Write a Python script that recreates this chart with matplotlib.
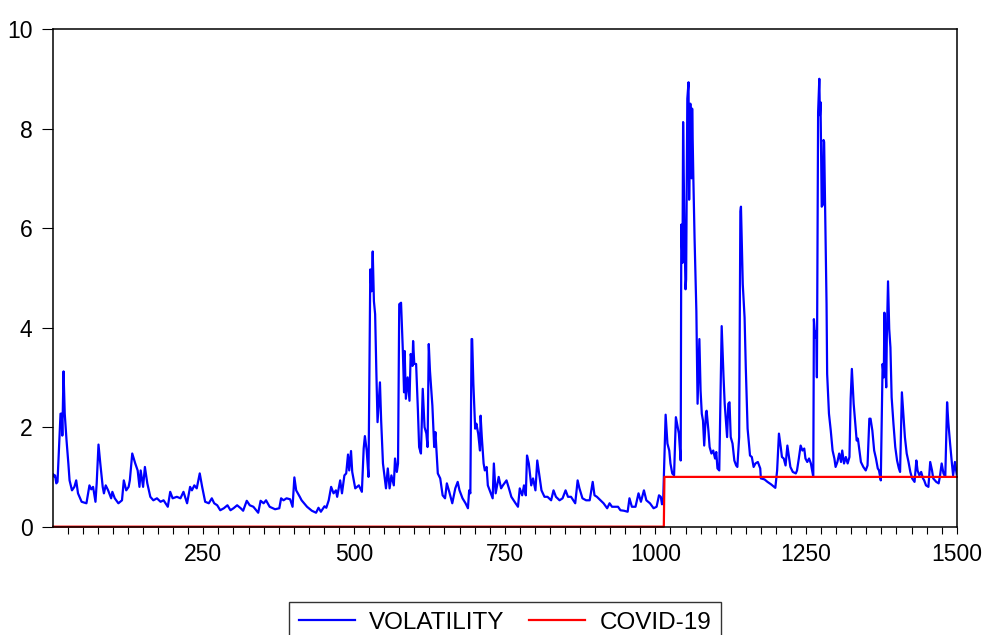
import numpy as np
import matplotlib
matplotlib.use('Agg')
import matplotlib.pyplot as plt
from matplotlib.ticker import MultipleLocator

plt.rcParams['font.family'] = ['Liberation Sans', 'DejaVu Sans']

vol_obs = [1, 3, 4, 6, 8, 13, 15, 16, 18, 20, 23, 26, 28, 32, 36, 39, 42, 48, 56, 61,
           64, 67, 71, 73, 76, 79, 83, 85, 88, 92, 97, 99, 103, 109, 115, 118, 122, 126, 128, 132,
           137, 141, 144, 146, 150, 153, 157, 162, 167, 173, 179, 184, 191, 195, 199, 206, 212, 217, 223, 228,
           231, 235, 239, 244, 248, 253, 259, 264, 268, 273, 278, 284, 290, 295, 300, 306, 312, 316, 322, 327,
           333, 341, 345, 350, 354, 360, 369, 376, 379, 383, 388, 394, 398, 401, 404, 410, 413, 422, 430, 437,
           441, 445, 451, 454, 458, 462, 466, 470, 472, 477, 480, 484, 487, 490, 492, 495, 497, 502, 508, 513,
           516, 518, 521, 524, 527, 529, 531, 533, 535, 537, 539, 543, 545, 548, 553, 556, 559, 562, 566, 568,
           571, 573, 575, 578, 581, 583, 584, 586, 589, 592, 594, 597, 598, 600, 603, 606, 608, 611, 614, 617,
           620, 622, 624, 626, 630, 633, 635, 639, 643, 647, 651, 654, 658, 663, 668, 672, 675, 680, 685, 689,
           691, 693, 695, 696, 698, 701, 703, 706, 709, 710, 712, 715, 717, 720, 722, 726, 730, 732, 735, 740,
           744, 747, 753, 757, 761, 768, 772, 775, 779, 782, 785, 787, 790, 794, 797, 801, 804, 807, 811, 816,
           821, 827, 831, 835, 841, 846, 851, 855, 860, 867, 871, 874, 879, 885, 891, 896, 899, 903, 909, 914,
           920, 924, 928, 933, 938, 942, 948, 954, 957, 961, 967, 972, 976, 981, 985, 991, 997, 1002, 1006, 1009,
           1011, 1013, 1017, 1020, 1023, 1025, 1028, 1031, 1034, 1036, 1039, 1042, 1043, 1045, 1046, 1048, 1050, 1051,
           1053, 1055, 1056, 1058, 1060, 1061, 1063, 1065, 1068, 1070, 1073, 1075, 1077, 1079, 1081, 1084, 1085, 1088,
           1090, 1093, 1096, 1099, 1101, 1103, 1106, 1108, 1110, 1113, 1115, 1119, 1121, 1123, 1125, 1128, 1131, 1134,
           1136, 1139, 1141, 1142, 1145, 1148, 1150, 1153, 1157, 1160, 1163, 1166, 1170, 1174, 1175, 1181, 1186, 1192,
           1197, 1199, 1202, 1205, 1208, 1210, 1213, 1216, 1219, 1222, 1224, 1228, 1233, 1235, 1238, 1241, 1244, 1247,
           1249, 1252, 1255, 1258, 1260, 1262, 1263, 1265, 1267, 1268, 1270, 1272, 1273, 1274, 1276, 1278, 1279, 1280,
           1282, 1284, 1285, 1288, 1291, 1294, 1297, 1299, 1302, 1305, 1308, 1310, 1313, 1316, 1319, 1322, 1324, 1326,
           1329, 1334, 1336, 1341, 1345, 1349, 1352, 1355, 1357, 1360, 1363, 1366, 1369, 1371, 1374, 1377, 1379, 1380,
           1381, 1383, 1384, 1386, 1388, 1390, 1392, 1395, 1398, 1401, 1404, 1406, 1409, 1411, 1414, 1417, 1420, 1423,
           1426, 1430, 1433, 1435, 1438, 1441, 1444, 1446, 1449, 1453, 1456, 1459, 1461, 1466, 1470, 1472, 1475, 1478,
           1481, 1484, 1486, 1489, 1492, 1494, 1497, 1500]
vol_vals = [1.05, 1.0, 1.03, 0.87, 0.9, 2.27, 2.27, 1.83, 3.12, 2.27, 1.73, 1.27, 0.93, 0.73, 0.80, 0.93, 0.67, 0.50, 0.47, 0.83,
            0.75, 0.80, 0.50, 0.87, 1.65, 1.27, 0.80, 0.67, 0.83, 0.73, 0.57, 0.70, 0.57, 0.47, 0.53, 0.93, 0.73, 0.80, 0.93, 1.47,
            1.27, 1.13, 0.80, 1.13, 0.80, 1.20, 0.87, 0.60, 0.53, 0.57, 0.50, 0.53, 0.40, 0.70, 0.57, 0.60, 0.57, 0.70, 0.47, 0.80,
            0.73, 0.83, 0.77, 1.07, 0.80, 0.50, 0.47, 0.57, 0.47, 0.43, 0.33, 0.37, 0.43, 0.33, 0.37, 0.43, 0.37, 0.32, 0.52, 0.43,
            0.40, 0.28, 0.52, 0.47, 0.53, 0.40, 0.35, 0.37, 0.57, 0.53, 0.57, 0.55, 0.40, 0.99, 0.73, 0.60, 0.53, 0.40, 0.32, 0.28,
            0.38, 0.30, 0.41, 0.38, 0.53, 0.80, 0.67, 0.73, 0.60, 0.93, 0.67, 1.03, 1.07, 1.45, 1.13, 1.52, 1.10, 0.77, 0.83, 0.70,
            1.57, 1.82, 1.53, 1.0, 5.17, 4.73, 5.53, 4.53, 4.27, 3.13, 2.10, 2.90, 2.13, 1.27, 0.77, 1.17, 0.77, 1.03, 0.83, 1.37,
            1.10, 1.27, 4.47, 4.50, 3.53, 2.70, 3.53, 2.57, 3.0, 2.53, 3.47, 3.23, 3.73, 3.27, 3.27, 2.33, 1.60, 1.47, 2.77, 2.0,
            1.87, 1.60, 3.67, 3.13, 2.43, 1.60, 1.90, 1.07, 0.97, 0.63, 0.57, 0.87, 0.70, 0.47, 0.77, 0.90, 0.73, 0.57, 0.47, 0.37,
            0.73, 0.67, 3.77, 3.77, 2.87, 1.97, 2.07, 1.87, 1.53, 2.23, 1.80, 1.27, 1.13, 1.20, 0.83, 0.70, 0.57, 1.27, 0.67, 1.0,
            0.77, 0.83, 0.93, 0.77, 0.60, 0.47, 0.40, 0.77, 0.63, 0.83, 0.63, 1.43, 1.27, 0.83, 0.97, 0.73, 1.33, 1.07, 0.73, 0.60,
            0.60, 0.53, 0.73, 0.60, 0.53, 0.57, 0.73, 0.60, 0.60, 0.47, 0.93, 0.77, 0.57, 0.53, 0.53, 0.90, 0.63, 0.60, 0.53, 0.47,
            0.37, 0.47, 0.40, 0.40, 0.40, 0.33, 0.32, 0.30, 0.57, 0.40, 0.40, 0.67, 0.50, 0.73, 0.53, 0.47, 0.37, 0.40, 0.63, 0.60,
            0.45, 0.55, 2.25, 1.67, 1.53, 1.27, 1.07, 1.03, 2.20, 2.07, 1.87, 1.33, 6.07, 5.30, 8.13, 6.13, 4.77, 4.97,
            8.60, 8.93, 6.57, 8.50, 7.0, 8.40, 7.0, 5.8, 4.33, 2.47, 3.77, 2.73, 2.27, 2.13, 1.63, 2.30, 2.33, 1.93,
            1.60, 1.47, 1.53, 1.37, 1.50, 1.17, 1.13, 2.63, 4.03, 3.03, 2.47, 1.80, 2.47, 2.50, 1.80, 1.67, 1.33, 1.23,
            1.20, 1.80, 6.33, 6.43, 4.87, 4.20, 3.20, 1.97, 1.43, 1.40, 1.20, 1.27, 1.30, 1.17, 0.97, 0.95, 0.90, 0.85,
            0.80, 0.78, 1.13, 1.87, 1.60, 1.40, 1.37, 1.23, 1.63, 1.37, 1.20, 1.10, 1.07, 1.13, 1.37, 1.63, 1.53, 1.57,
            1.37, 1.30, 1.37, 1.27, 1.13, 1.0, 4.17, 3.80, 3.93, 3.0, 8.33, 9.0, 8.27, 8.53, 6.43, 6.47, 7.77, 7.73,
            6.13, 4.47, 3.07, 2.27, 1.93, 1.53, 1.37, 1.20, 1.30, 1.47, 1.30, 1.53, 1.27, 1.40, 1.27, 1.40, 2.57, 3.17,
            2.47, 1.73, 1.77, 1.30, 1.20, 1.13, 1.23, 2.17, 2.17, 1.93, 1.53, 1.37, 1.17, 1.13, 0.93, 3.27, 3.0, 4.30,
            3.53, 2.80, 3.80, 4.93, 3.97, 3.60, 2.60, 2.07, 1.60, 1.33, 1.17, 1.10, 2.70, 2.33, 1.80, 1.47, 1.30, 1.10,
            0.97, 0.90, 1.33, 1.13, 1.03, 1.10, 0.97, 0.93, 0.83, 0.80, 1.30, 1.13, 0.97, 0.90, 0.87, 1.0, 1.27, 1.07,
            1.0, 2.50, 2.10, 1.67, 1.27, 1.03, 1.30, 1.05]

# covid-19 dummy: 0 before the break, 1 after
n_obs = 1500
covid_start = 1015
obs = np.arange(1, n_obs + 1)
covid = (obs >= covid_start).astype(float)

x_ticks = [250, 500, 750, 1000, 1250, 1500]
y_ticks = [0, 2, 4, 6, 8, 10]

fig = plt.figure(figsize=(9.85, 6.35), dpi=100)
ax = fig.add_axes([0.0541, 0.1706, 0.9172, 0.7837])

ax.plot(vol_obs, vol_vals, color='#0000ff', lw=1.6, label='VOLATILITY')
ax.plot(obs, covid, color='#ff0000', lw=1.6, label='COVID-19', clip_on=False)

ax.set_xlim(1, n_obs)
ax.set_ylim(0, 10)
ax.set_xticks(x_ticks)
ax.set_xticklabels([str(t) for t in x_ticks])
ax.xaxis.set_minor_locator(MultipleLocator(25))
ax.set_yticks(y_ticks)
ax.set_yticklabels([str(t) for t in y_ticks])

ax.tick_params(axis='x', which='both', direction='out', length=5, width=0.8,
               labelsize=16.5, pad=7, top=False)
ax.tick_params(axis='y', which='major', direction='out', length=8, width=0.8,
               labelsize=16.5, pad=7, right=False)
for s in ax.spines.values():
    s.set_linewidth(1.1)
    s.set_color('black')

leg = fig.legend(loc='upper center', bbox_to_anchor=(0.5127, 1 - 602 / 635), ncol=2,
                 fontsize=17.5, frameon=True, fancybox=False, edgecolor='black',
                 handlelength=2.3, handletextpad=0.6, columnspacing=1.0,
                 borderpad=0.4, borderaxespad=0)
leg.get_frame().set_linewidth(1.0)

plt.savefig('out.png', dpi=100)
